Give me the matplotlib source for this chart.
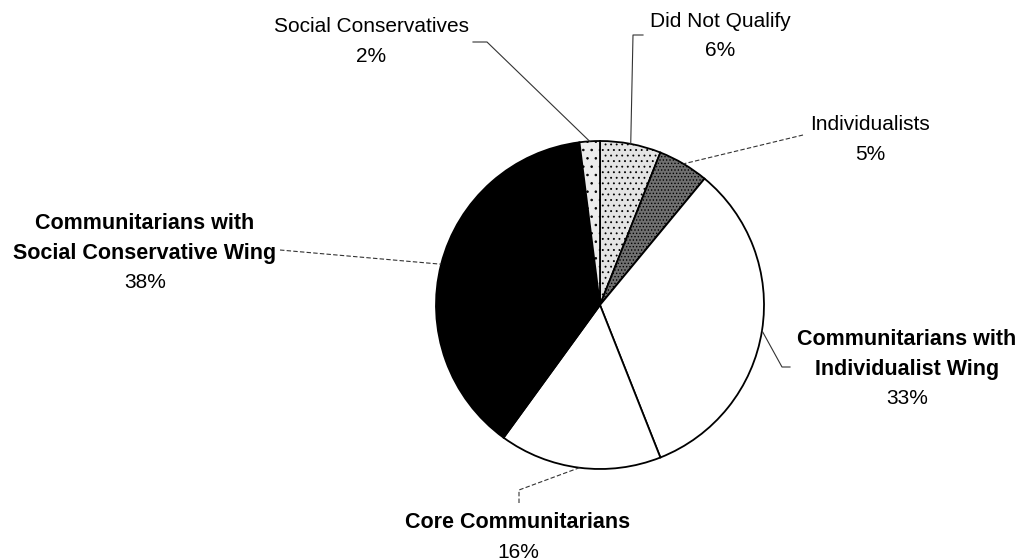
import numpy as np
import matplotlib.pyplot as plt

plt.rcParams['font.family'] = ['Liberation Sans', 'DejaVu Sans']
plt.rcParams['hatch.linewidth'] = 0.6

# survey groups, clockwise from 12 o'clock
groups = ["Did Not Qualify", "Individualists",
          "Communitarians with\nIndividualist Wing", "Core Communitarians",
          "Communitarians with\nSocial Conservative Wing", "Social Conservatives"]
shares = [6, 5, 33, 16, 38, 2]
fills = ['#e4e4e4', '#707070', 'white', 'white', 'black', '#ececec']
hatches = ['...', '.....', '', '', '', '..']
bold = [False, False, True, True, True, False]

# label anchor: centre x and baseline of the first line
label_xy = [(720, 533), (870, 430), (907, 215), (518, 32), (145, 331), (371, 528)]
# leader line bends, from the text end towards the wedge
elbows = [[(643, 525), (633, 525)],
          [(803, 425)],
          [(790, 193), (782, 193)],
          [(519, 57), (519, 70)],
          [(280, 310)],
          [(473, 518), (487, 518)]]
dashed = [False, True, False, True, True, False]

fig = plt.figure(figsize=(10.3, 5.6), dpi=100)
ax = fig.add_axes([0, 0, 1, 1])
ax.axis('off')

cx, cy, r = 600, 255, 164
wedges, _ = ax.pie(shares, colors=fills, hatch=hatches, startangle=90,
                   counterclock=False, center=(cx, cy), radius=r,
                   wedgeprops=dict(edgecolor='black', linewidth=1.3))
ax.set_xlim(0, 1030)
ax.set_ylim(0, 560)
ax.set_aspect('equal')

line_gap = 29.5
for w, name, pct, (tx, ty), bends, b, dsh in zip(wedges, groups, shares, label_xy,
                                                 elbows, bold, dashed):
    lines = name.split('\n')
    for i, ln in enumerate(lines):
        ax.text(tx, ty - i * line_gap, ln, ha='center', va='baseline',
                fontsize=15.5 if b else 15, fontweight='bold' if b else 'normal',
                color='black')
    ax.text(tx, ty - len(lines) * line_gap, f"{pct}%", ha='center', va='baseline',
            fontsize=15, color='black')

    # leader ends on the arc at the middle of the wedge
    mid = np.deg2rad((w.theta1 + w.theta2) / 2)
    edge = (cx + r * np.cos(mid), cy + r * np.sin(mid))
    xs, ys = zip(*(bends + [edge]))
    ax.plot(xs, ys, color='#333333', linewidth=0.8,
            linestyle=(0, (4, 2)) if dsh else '-')

fig.savefig('out.png', dpi=100, facecolor='white')
